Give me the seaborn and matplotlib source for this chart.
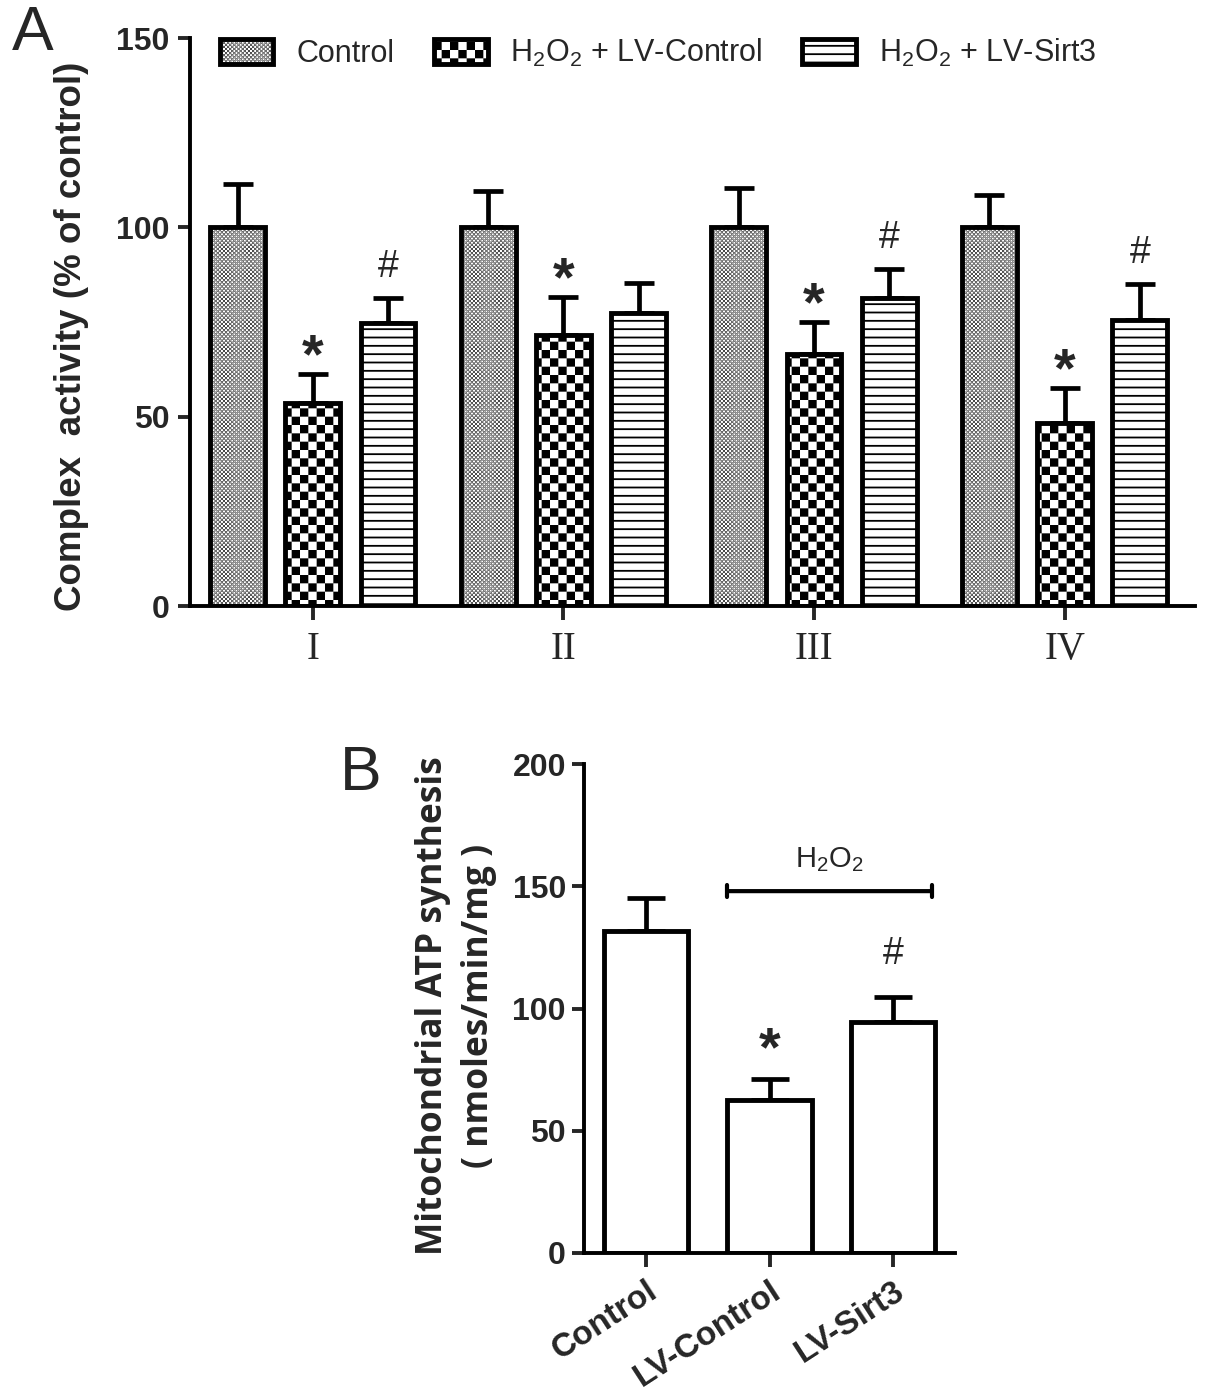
import numpy as np
import pandas as pd
import matplotlib
matplotlib.use("Agg")
import matplotlib.pyplot as plt
import matplotlib.hatch as mhatch
from matplotlib.path import Path
import seaborn as sns

# datos panel A: actividad de complejos (% del control)
complejos = ["I", "II", "III", "IV"]
grupos = ["Control", r"H$_2$O$_2$ + LV-Control", r"H$_2$O$_2$ + LV-Sirt3"]
act_control = [100, 100, 100, 100]
act_lv_control = [53.6, 71.6, 66.5, 48.3]
act_lv_sirt3 = [74.7, 77.4, 81.3, 75.5]
err_control = [11.4, 9.6, 10.4, 8.5]
err_lv_control = [7.7, 10.0, 8.5, 9.3]
err_lv_sirt3 = [6.6, 7.9, 7.7, 9.5]
marca_lv_control = ["*", "*", "*", "*"]
marca_lv_sirt3 = ["#", "", "#", "#"]

# datos panel B: sintesis de ATP
grupos_b = ["Control", "LV-Control", "LV-Sirt3"]
atp = [131.8, 62.5, 94.6]
err_atp = [13.5, 8.7, 10.2]
marca_b = ["", "*", "#"]

HATCH_LW = 1.3


# patron de tablero de ajedrez (reemplaza el patron 'O')
class CheckerHatch(mhatch.HatchPatternBase):
    def __init__(self, hatch, density):
        self.n = int(hatch.count("O") * density)
        self.num_vertices = 2 * self.n * self.n * 5 if self.n else 0

    def set_vertices_and_codes(self, vertices, codes):
        m = 2 * self.n
        cell = 1.0 / m
        if self.n < 12:
            side = cell - HATCH_LW / 72.0
        else:
            side = 0.002  # tablero fino: casi puntos
        pad = (cell - side) / 2
        k = 0
        for i in range(m):
            for j in range(m):
                if (i + j) % 2:
                    continue
                x0, y0 = i * cell + pad, j * cell + pad
                vertices[k:k + 5] = [[x0, y0], [x0 + side, y0], [x0 + side, y0 + side],
                                     [x0, y0 + side], [x0, y0]]
                codes[k:k + 5] = [Path.MOVETO, Path.LINETO, Path.LINETO, Path.LINETO, Path.CLOSEPOLY]
                k += 5


mhatch._hatch_types = [CheckerHatch if t is mhatch.LargeCircles else t for t in mhatch._hatch_types]

sns.set_style("white")
plt.rcParams["font.family"] = ["Liberation Sans", "DejaVu Sans"]
plt.rcParams["mathtext.default"] = "regular"
plt.rcParams["hatch.linewidth"] = HATCH_LW
plt.rcParams["hatch.color"] = "black"

fig = plt.figure(figsize=(12.05, 13.96), dpi=100)
W, H = 1205, 1396
axA = fig.add_axes([190 / W, 1 - 606 / H, (1195 - 190) / W, (606 - 38) / H])
axB = fig.add_axes([584 / W, 1 - 1253 / H, (955 - 584) / W, (1253 - 764) / H])

# ---------- Panel A ----------
df_a = pd.DataFrame({
    "complejo": complejos * 3,
    "grupo": [grupos[0]] * 4 + [grupos[1]] * 4 + [grupos[2]] * 4,
    "valor": act_control + act_lv_control + act_lv_sirt3,
})
sns.barplot(data=df_a, x="complejo", y="valor", hue="grupo", order=complejos, hue_order=grupos,
            palette=["white"] * 3, saturation=1, edgecolor="black", linewidth=3.5,
            width=0.9, gap=0.27, errorbar=None, legend=False, ax=axA)

hatches = ["OOOO", "O", "--"]
errores = [err_control, err_lv_control, err_lv_sirt3]
marcas = [["", "", "", ""], marca_lv_control, marca_lv_sirt3]
for cont, hatch, err, marca in zip(axA.containers, hatches, errores, marcas):
    xs, hs = [], []
    for p in cont.patches:
        p.set_hatch(hatch)
        p.set_joinstyle("miter")
        xs.append(p.get_x() + p.get_width() / 2)
        hs.append(p.get_height())
    xs, hs = np.array(xs), np.array(hs)
    axA.errorbar(xs, hs, yerr=[np.zeros(len(err)), err], fmt="none", ecolor="black",
                 elinewidth=3.4, capsize=11, capthick=3.4, zorder=0.9)
    for x, h, e, m in zip(xs, hs, err, marca):
        if m == "*":
            axA.text(x, h + e + 0.5, m, ha="center", va="baseline", fontsize=40, fontweight="bold")
        elif m == "#":
            axA.text(x, h + e + 5.5, m, ha="center", va="baseline", fontsize=27)

axA.set_ylim(0, 150)
axA.set_xlim(-0.49, 3.52)
axA.set_yticks([0, 50, 100, 150])
axA.set_xlabel("")
axA.set_ylabel("Complex  activity (% of control)", fontsize=26.5, fontweight="bold")
axA.yaxis.set_label_coords(-0.10, 0.474)
axA.tick_params(axis="y", labelsize=23, width=2.8, length=9, direction="out", left=True, pad=6)
axA.tick_params(axis="x", width=2.8, length=10, direction="out", bottom=True, pad=8)
for lbl in axA.get_yticklabels():
    lbl.set_fontweight("bold")
for lbl in axA.get_xticklabels():
    lbl.set_fontfamily("Liberation Serif")
    lbl.set_fontsize(28)
for s in ["top", "right"]:
    axA.spines[s].set_visible(False)
for s in ["left", "bottom"]:
    axA.spines[s].set_linewidth(2.8)
    axA.spines[s].set_color("black")

axA.legend(axA.containers, grupos, loc="center left", bbox_to_anchor=(220 / W, 1 - 53 / H),
           bbox_transform=fig.transFigure, ncol=3, frameon=False, fontsize=22,
           handlelength=1.75, handleheight=0.85, handletextpad=0.75, columnspacing=1.3,
           borderpad=0, borderaxespad=0)

# ---------- Panel B ----------
df_b = pd.DataFrame({"grupo": grupos_b, "atp": atp})
sns.barplot(data=df_b, x="grupo", y="atp", order=grupos_b, color="white", saturation=1,
            edgecolor="black", linewidth=3.5, width=0.68, errorbar=None, ax=axB)
xs_b = np.array([p.get_x() + p.get_width() / 2 for p in axB.patches])
hs_b = np.array([p.get_height() for p in axB.patches])
axB.errorbar(xs_b, hs_b, yerr=[np.zeros(len(err_atp)), err_atp], fmt="none", ecolor="black",
             elinewidth=3.4, capsize=14, capthick=3.4, zorder=0.9)
for x, h, e, m in zip(xs_b, hs_b, err_atp, marca_b):
    if m == "*":
        axB.text(x, h + e + 5.5, m, ha="center", va="baseline", fontsize=40, fontweight="bold")
    elif m == "#":
        axB.text(x, h + e + 13.5, m, ha="center", va="baseline", fontsize=27)

# barra H2O2 sobre LV-Control y LV-Sirt3
p1, p2 = axB.patches[1], axB.patches[2]
x_ini = p1.get_x()
x_fin = p2.get_x() + p2.get_width() - 0.03
axB.annotate("", xy=(x_ini, 148), xytext=(x_fin, 148),
             arrowprops=dict(arrowstyle="|-|,widthA=0.45,widthB=0.45", lw=3, color="black",
                             shrinkA=0, shrinkB=0))
axB.text((x_ini + x_fin) / 2, 161, r"H$_2$O$_2$", ha="center", va="center", fontsize=21)

axB.set_ylim(0, 200)
axB.set_xlim(-0.5, 2.5)
axB.set_yticks([0, 50, 100, 150, 200])
axB.set_xlabel("")
axB.set_ylabel("Mitochondrial ATP synthesis\n( nmoles/min/mg )", fontsize=25.5, fontweight="bold",
               fontfamily="Open Sans", linespacing=1.35)
axB.yaxis.set_label_coords(-0.235, 0.505)
axB.tick_params(axis="y", labelsize=23, width=2.8, length=9, direction="out", left=True, pad=4)
axB.tick_params(axis="x", width=2.8, length=10, direction="out", bottom=True, pad=6)
for lbl in axB.get_yticklabels():
    lbl.set_fontweight("bold")
for lbl in axB.get_xticklabels():
    lbl.set_fontweight("bold")
    lbl.set_fontsize(24)
    lbl.set_rotation(33)
    lbl.set_ha("right")
    lbl.set_va("top")
    lbl.set_rotation_mode("anchor")
for s in ["top", "right"]:
    axB.spines[s].set_visible(False)
for s in ["left", "bottom"]:
    axB.spines[s].set_linewidth(2.8)
    axB.spines[s].set_color("black")

fig.text(12 / W, 1 - 50 / H, "A", fontsize=45, va="baseline", ha="left")
fig.text(340 / W, 1 - 790 / H, "B", fontsize=45, va="baseline", ha="left")

fig.savefig("out.png", dpi=100)
